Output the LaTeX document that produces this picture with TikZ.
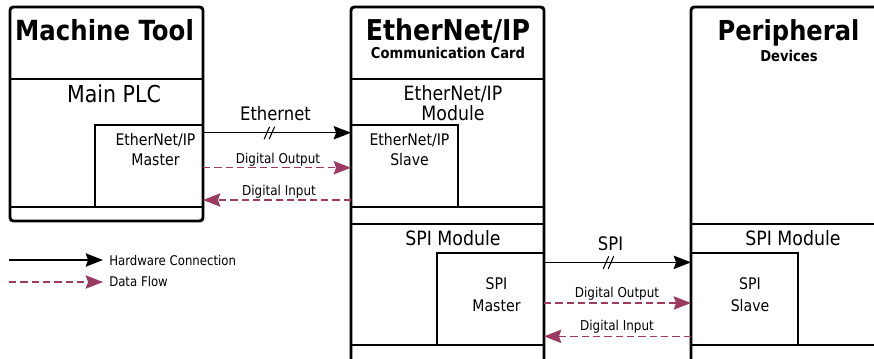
\documentclass[tikz,border=0pt]{standalone}
\usepackage{fontspec}
\setmainfont{DejaVu Sans}[FakeStretch=0.88]
\usepackage{tikz}
\usetikzlibrary{positioning}
\usetikzlibrary{decorations.markings}
\usetikzlibrary{arrows.meta}
\usepackage{xcolor}

\definecolor{flowRed}{RGB}{155,58,98}

\tikzset
  {
    housing/.style=    {line width=2.2pt, rounded corners=2.5pt},
    part/.style=       {line width=0.95pt},
    partBox/.style=    {draw, line width=0.95pt, rectangle, inner sep=0pt, outer sep=0pt, anchor=north west},
    tipHead/.style=    {-{Stealth[length=13pt,width=10pt,inset=1.8pt]}},
    hwLine/.style=     {line width=1.05pt, tipHead},
    flowLine/.style=   {flowRed, line width=1.05pt, dash pattern=on 5.5pt off 3pt, tipHead},
    busMark/.style=    {postaction={decorate},
                        decoration={markings, mark=at position #1 with
                          {\draw[-, solid, line width=0.8pt] (-4,6.5)--(1.5,-6) (1,6.5)--(6.5,-6);}}},
    titleText/.style=  {font=\bfseries\fontsize{21}{21}\selectfont, anchor=base, inner sep=0pt},
    subText/.style=    {font=\bfseries\fontsize{11.2}{12}\selectfont, anchor=base, inner sep=0pt},
    sectText/.style=   {font=\fontsize{14.8}{15}\selectfont, anchor=base, inner sep=0pt},
    boxText/.style=    {font=\fontsize{12}{12}\selectfont, anchor=base, inner sep=0pt},
    busText/.style=    {font=\fontsize{14}{14}\selectfont, anchor=base, inner sep=0pt},
    flowText/.style=   {font=\fontsize{10.2}{11}\selectfont, anchor=base, inner sep=0pt},
    legendText/.style= {font=\fontsize{10}{11}\selectfont, anchor=base west, inner sep=4.5pt}
  }

\begin{document}
\begin{tikzpicture}[x=0.75pt, y=-0.75pt]

\useasboundingbox (0,0) rectangle (874,358);
\clip (0,0) rectangle (874,358);

% machine tool
\begin{scope}
\draw[part] (10,79)--(203,79);
\draw[part] (10,207)--(203,207);

\node[partBox, minimum width=81pt, minimum height=61.5pt] (master) at (95,125) {};

\node[titleText, font=\bfseries\fontsize{20.8}{21}\selectfont] (mtTitle) at (104.5,40) {Machine Tool};
\node[sectText, font=\fontsize{17.5}{18}\selectfont] (plcText) at (114,102.3) {Main PLC};
\node[boxText] (masterTop) at (155.5,145.3) {EtherNet/IP};
\node[boxText] (masterBot) at (155.5,165.7) {Master};

\draw[housing] (10,7) rectangle (203,221);
\end{scope}

% communication card
\begin{scope}
\draw[part] (351,79)--(544,79);
\draw[part] (351,207)--(544,207);
\draw[part] (351,224)--(544,224);
\draw[part] (351,345)--(544,345);

\node[partBox, minimum width=80.25pt, minimum height=61.5pt] (slave) at (351,125) {};
\node[partBox, minimum width=80.25pt, minimum height=69pt] (spiMaster) at (437,253) {};

\node[titleText, font=\bfseries\fontsize{21.5}{22}\selectfont] (cardTitle) at (448,40) {EtherNet/IP};
\node[subText] (cardSub) at (448,58.3) {Communication Card};
\node[sectText] (modTop) at (453,100) {EtherNet/IP};
\node[sectText] (modBot) at (453,120) {Module};
\node[boxText] (slaveTop) at (409.5,145.3) {EtherNet/IP};
\node[boxText] (slaveBot) at (409.5,165.7) {Slave};
\node[sectText] (cardSpi) at (453,245) {SPI Module};
\node[boxText] (spiMTop) at (496.5,289) {SPI};
\node[boxText] (spiMBot) at (496.5,311) {Master};

\draw[housing] (351,7) rectangle (544,400);
\end{scope}

% peripheral devices
\begin{scope}
\draw[part] (691,224)--(900,224);
\draw[part] (691,345)--(900,345);

\node[partBox, minimum width=80.25pt, minimum height=69pt] (spiSlave) at (691,253) {};

\node[titleText, font=\bfseries\fontsize{20.6}{21}\selectfont] (perTitle) at (788.5,40) {Peripheral};
\node[subText] (perSub) at (789,61) {Devices};
\node[sectText] (perSpi) at (793,245) {SPI Module};
\node[boxText] (spiSTop) at (750,289) {SPI};
\node[boxText] (spiSBot) at (750,311) {Slave};

\draw[housing] (691,7) rectangle (950,400);
\end{scope}

% ethernet link
\draw[hwLine, busMark=0.44] ([yshift=-5.8pt]master.north east) -- ([yshift=-5.8pt]slave.north west);
\draw[flowLine] ([yshift=-1.3pt]master.east) -- ([yshift=-1.3pt]slave.west);
\draw[flowLine] ([yshift=5.25pt]slave.south west) -- ([yshift=5.25pt]master.south east);

\node[busText] (ethText) at (275.5,120.7) {Ethernet};
\node[flowText] (ethOut) at (278,163.3) {Digital Output};
\node[flowText] (ethIn) at (279,195.7) {Digital Input};

% spi link
\draw[hwLine, busMark=0.43] ([yshift=-7pt]spiMaster.north east) -- ([yshift=-7pt]spiSlave.north west);
\draw[flowLine] ([yshift=-3pt]spiMaster.east) -- ([yshift=-3pt]spiSlave.west);
\draw[flowLine] ([yshift=6.5pt]spiSlave.south west) -- ([yshift=6.5pt]spiMaster.south east);

\node[busText] (spiText) at (610.5,250.7) {SPI};
\node[flowText] (spiOut) at (617,297.3) {Digital Output};
\node[flowText] (spiIn) at (617,330) {Digital Input};

% legend
\coordinate (hwStart) at (9,260);
\coordinate (flowStart) at (9,282);
\node[legendText] (hwKey) at (103,265) {Hardware Connection};
\node[legendText] (flowKey) at (103,286.7) {Data Flow};
\draw[hwLine] (hwStart) -- (hwStart -| hwKey.west);
\draw[flowLine] (flowStart) -- (flowStart -| flowKey.west);

\end{tikzpicture}
\end{document}
